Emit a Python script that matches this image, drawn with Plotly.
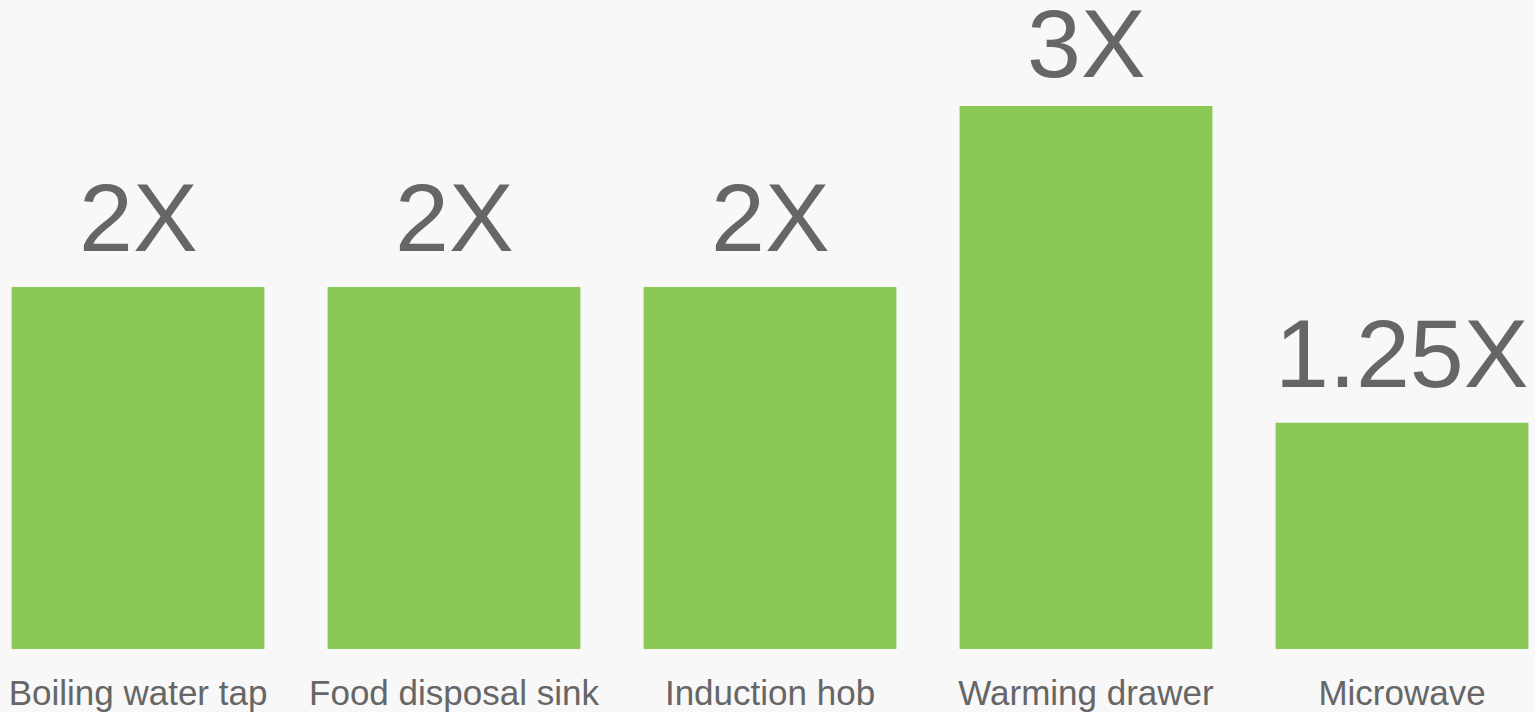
import plotly.graph_objects as go

categories = ["Boiling water tap", "Food disposal sink", "Induction hob", "Warming drawer", "Microwave"]
values = [2, 2, 2, 3, 1.25]
value_labels = ["2X", "2X", "2X", "3X", "1.25X"]

BG = "#f8f8f8"
GREEN = "#8bc957"
GRAY = "#666666"
FONT = "Liberation Sans, Arial, sans-serif"

Y_MAX = 3.586
PLOT_H = 712 - 63
PX_PER_UNIT = PLOT_H / Y_MAX

fig = go.Figure(go.Bar(
    x=categories,
    y=values,
    marker=dict(color=GREEN, line=dict(width=0)),
    width=0.8,
    hoverinfo="skip",
))

for c, v, lab in zip(categories, values, value_labels):
    headroom = (Y_MAX - v) * PX_PER_UNIT
    shift = min(13, headroom - 100)  # keep the label inside the figure
    fig.add_annotation(x=c, y=v, text=lab, showarrow=False, xanchor="center", yanchor="bottom",
                       yshift=shift, font=dict(family=FONT, size=97, color=GRAY))

fig.update_layout(
    width=1535, height=712,
    paper_bgcolor=BG, plot_bgcolor=BG,
    margin=dict(l=0, r=0, t=0, b=63),
    showlegend=False,
    xaxis=dict(range=[-0.4367, 4.4209], showgrid=False, zeroline=False, showline=False,
               ticks="", ticklabelstandoff=20,
               tickfont=dict(family=FONT, size=35, color=GRAY)),
    yaxis=dict(range=[0, Y_MAX], visible=False),
)

fig.write_html("out.html", config={"displayModeBar": False},
               post_script="document.body.style.margin='0';document.body.style.background='#f8f8f8';")
